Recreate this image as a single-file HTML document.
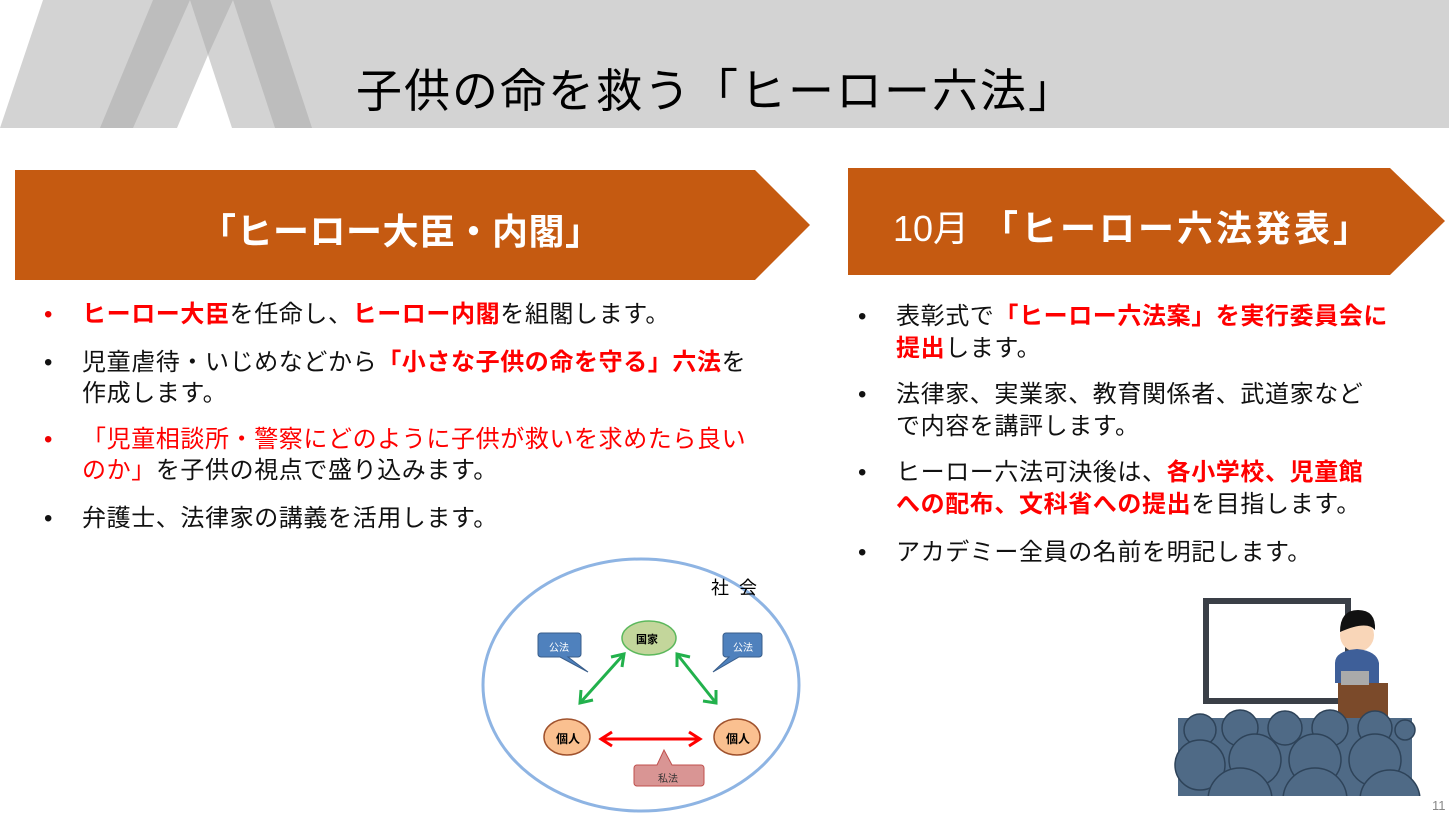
<!DOCTYPE html>
<html><head><meta charset="utf-8"><style>
body{margin:0;width:1449px;height:817px;position:relative;background:#fff;overflow:hidden;font-family:"Liberation Sans","Noto Sans CJK JP",sans-serif;}
.t{position:absolute;white-space:nowrap;}
ul{position:absolute;margin:0;padding:0;list-style:none;font-size:24px;letter-spacing:0.6px;color:#111;}
li{position:relative;padding-left:38px;}
li:before{content:"•";position:absolute;left:0;top:0;}
li.r:before{color:#e00;}
.R{color:#f00;font-weight:bold;}
</style></head><body>
<svg width="1449" height="817" style="position:absolute;left:0;top:0">
<polygon points="43,0 1449,0 1449,128 0,128" fill="#d3d3d3"/>
<polygon points="153,0 190,0 133,128 100,128" fill="#bdbdbd"/>
<polygon points="233,0 270,0 312,128 275,128" fill="#bdbdbd"/>
<polygon points="190,0 233,0 208,55" fill="#bdbdbd"/>
<polygon points="208,55 232,128 177,128" fill="#fff"/>
<polygon points="15,170 755,170 810,225 755,280 15,280" fill="#c55a11"/>
<polygon points="848,168 1390,168 1445,221 1390,275 848,275" fill="#c55a11"/>
<ellipse cx="641" cy="685" rx="158" ry="126" fill="none" stroke="#8eb4e3" stroke-width="3"/>
<ellipse cx="649" cy="638" rx="27" ry="17" fill="#c3d69b" stroke="#5cb85c" stroke-width="1.5"/>
<ellipse cx="567" cy="737" rx="23" ry="18" fill="#fac090" stroke="#a0522d" stroke-width="1.5"/>
<ellipse cx="737" cy="737" rx="23" ry="18" fill="#fac090" stroke="#a0522d" stroke-width="1.5"/>
<g stroke="#22b14c" stroke-width="3" fill="none">
<line x1="580" y1="703" x2="624" y2="654"/><polyline points="611,657 624,654 622,667"/><polyline points="581,690 580,703 593,700"/>
<line x1="677" y1="654" x2="716" y2="703"/><polyline points="677,667 677,654 690,657"/><polyline points="703,701 716,703 716,690"/>
</g>
<g stroke="#f00" stroke-width="3" fill="none">
<line x1="601" y1="739" x2="700" y2="739"/><polyline points="612,732 601,739 612,746"/><polyline points="689,732 700,739 689,746"/>
</g>
<path d="M541,633 h37 a3,3 0 0 1 3,3 v18 a3,3 0 0 1 -3,3 h-10 l20,15 l-28,-15 h-19 a3,3 0 0 1 -3,-3 v-18 a3,3 0 0 1 3,-3z" fill="#4f81bd" stroke="#385d8a"/>
<path d="M726,633 h33 a3,3 0 0 1 3,3 v18 a3,3 0 0 1 -3,3 h-20 l-26,15 l16,-15 h-3 a3,3 0 0 1 -3,-3 v-18 a3,3 0 0 1 3,-3z" fill="#4f81bd" stroke="#385d8a"/>
<path d="M637,765 h20 l7,-15 l8,15 h29 a3,3 0 0 1 3,3 v15 a3,3 0 0 1 -3,3 h-64 a3,3 0 0 1 -3,-3 v-15 a3,3 0 0 1 3,-3z" fill="#d99594" stroke="#c0504d"/>
<rect x="1206" y="601" width="142" height="100" fill="#fff" stroke="#3a3f47" stroke-width="6"/>
<rect x="1338" y="683" width="50" height="40" fill="#7b4a2a"/>
<circle cx="1357" cy="635" r="17" fill="#f9d6b8"/>
<path d="M1340,632 q0,-22 18,-22 q18,0 17,20 q-8,-10 -35,2z" fill="#111"/>
<path d="M1335,683 v-20 q0,-12 22,-14 q20,2 22,14 v20z" fill="#3e5f99"/>
<rect x="1341" y="671" width="28" height="14" fill="#aaa"/>
<rect x="1178" y="718" width="234" height="78" fill="#4f6a86"/>
<g fill="#4f6a86" stroke="#2e4359" stroke-width="1.5">
<circle cx="1200" cy="730" r="16"/><circle cx="1240" cy="728" r="18"/><circle cx="1285" cy="728" r="17"/><circle cx="1330" cy="728" r="18"/><circle cx="1375" cy="728" r="17"/><circle cx="1405" cy="730" r="10"/>
<circle cx="1200" cy="765" r="25"/><circle cx="1255" cy="760" r="26"/><circle cx="1315" cy="760" r="26"/><circle cx="1375" cy="760" r="26"/>
<circle cx="1240" cy="800" r="32"/><circle cx="1315" cy="800" r="32"/><circle cx="1390" cy="800" r="30"/>
</g>
<rect x="1170" y="796" width="260" height="25" fill="#fff"/>
</svg>
<div class="t" style="left:356px;top:55px;font-size:46px;letter-spacing:2px;color:#000;">子供の命を救う「ヒーロー六法」</div>
<div class="t" style="left:200px;top:203px;font-size:36px;letter-spacing:0.5px;color:#fff;font-weight:bold;">「ヒーロー大臣・内閣」</div>
<div class="t" style="left:893px;top:200px;font-size:36px;letter-spacing:3px;color:#fff;font-weight:bold;"><span style="font-weight:normal;letter-spacing:0">10月</span> 「ヒーロー六法発表」</div>
<ul style="left:44px;top:299px;width:760px;line-height:31px;">
<li class="r" style="margin-bottom:17px"><span class="R">ヒーロー大臣</span>を任命し、<span class="R">ヒーロー内閣</span>を組閣します。</li>
<li style="margin-bottom:15px">児童虐待・いじめなどから<span class="R">「小さな子供の命を守る」六法</span>を<br>作成します。</li>
<li class="r" style="margin-bottom:17px"><span style="color:#f00">「児童相談所・警察にどのように子供が救いを求めたら良い<br>のか」</span>を子供の視点で盛り込みます。</li>
<li>弁護士、法律家の講義を活用します。</li>
</ul>
<ul style="left:858px;top:301px;width:590px;line-height:32px;">
<li style="margin-bottom:14px">表彰式で<span class="R">「ヒーロー六法案」を実行委員会に<br>提出</span>します。</li>
<li style="margin-bottom:14px">法律家、実業家、教育関係者、武道家など<br>で内容を講評します。</li>
<li style="margin-bottom:16px">ヒーロー六法可決後は、<span class="R">各小学校、児童館<br>への配布、文科省への提出</span>を目指します。</li>
<li>アカデミー全員の名前を明記します。</li>
</ul>
<div class="t" style="left:711px;top:574px;font-size:18px;letter-spacing:10px;">社会</div>
<div class="t" style="left:636px;top:631px;font-size:11px;font-weight:bold;">国家</div>
<div class="t" style="left:556px;top:730px;font-size:12px;font-weight:bold;">個人</div>
<div class="t" style="left:726px;top:730px;font-size:12px;font-weight:bold;">個人</div>
<div class="t" style="left:549px;top:639px;font-size:10px;color:#fff;">公法</div>
<div class="t" style="left:733px;top:639px;font-size:10px;color:#fff;">公法</div>
<div class="t" style="left:658px;top:770px;font-size:10px;color:#333;">私法</div>
<div class="t" style="left:1432px;top:798px;font-size:13px;color:#888;">11</div>
</body></html>
